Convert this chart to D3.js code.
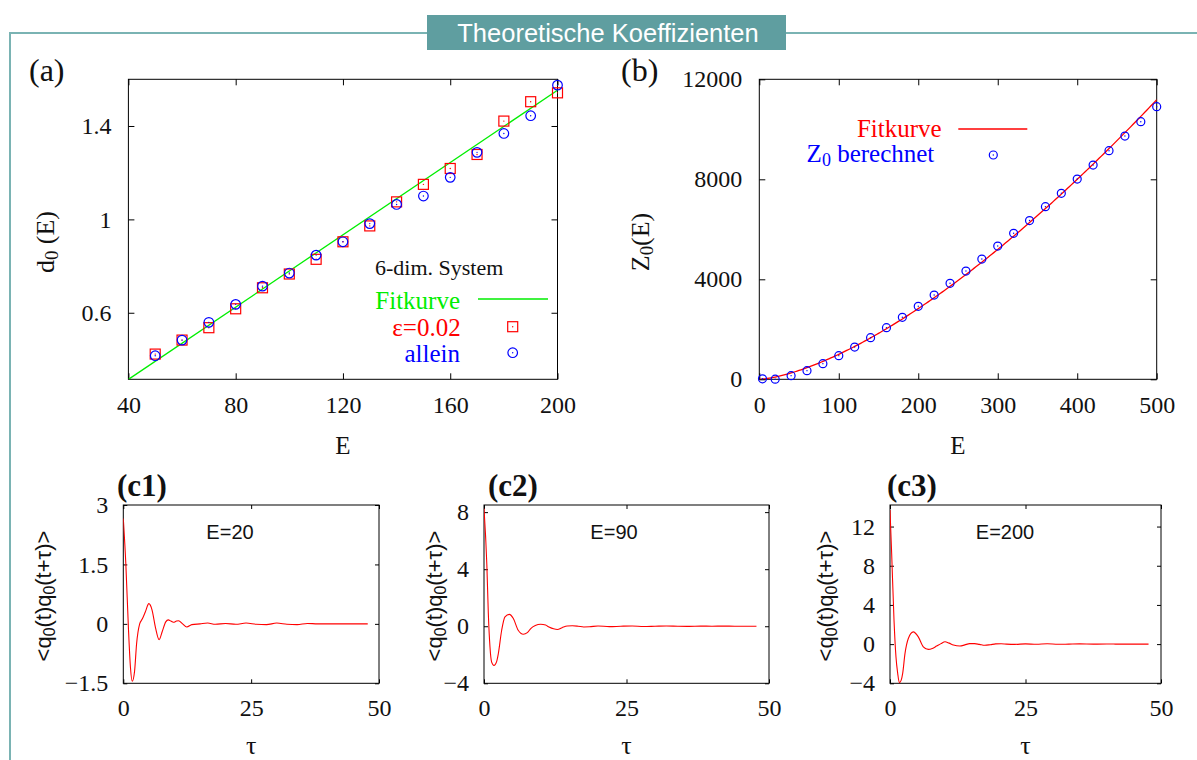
<!DOCTYPE html>
<html>
<head>
<meta charset="utf-8">
<script src="https://cdn.jsdelivr.net/npm/d3@7/dist/d3.min.js"></script>
<style>
  html, body { margin: 0; padding: 0; background: #fff; }
  svg { display: block; }
  .serif { font-family: "Liberation Serif", "Times New Roman", serif; }
  .sans { font-family: "Liberation Sans", Arial, sans-serif; }
</style>
</head>
<body>
<svg id="chart" width="1197" height="760"></svg>
<script>
// ---------- data ----------
// (a) d0(E) for the 6-dim. system
const energyA = [50, 60, 70, 80, 90, 100, 110, 120, 130, 140, 150, 160, 170, 180, 190, 200];
const d0Eps = [0.423, 0.483, 0.536, 0.617, 0.707, 0.766, 0.829, 0.904, 0.972, 1.075, 1.150, 1.218, 1.278, 1.421, 1.504, 1.542];
const d0Allein = [0.416, 0.483, 0.559, 0.636, 0.714, 0.770, 0.847, 0.904, 0.982, 1.064, 1.100, 1.180, 1.287, 1.368, 1.444, 1.575];
const fitA = [0.00774, 0.005];          // slope, intercept of the linear fit
const xTicksA = [40, 80, 120, 160, 200];
const yTicksA = [0.6, 1, 1.4];

// (b) Z0(E)
const energyB = [4, 20, 40, 60, 80, 100, 120, 140, 160, 180, 200, 220, 240, 260, 280, 300, 320, 340, 360, 380, 400, 420, 440, 460, 480, 500];
const z0Values = [20, 5, 145, 345, 625, 945, 1290, 1665, 2065, 2480, 2920, 3370, 3840, 4330, 4810, 5330, 5840, 6350, 6905, 7440, 8010, 8570, 9145, 9730, 10305, 10905];
const fitB = [1.0, 1.5];                // Z0 = a * E^b
const xTicksB = [0, 100, 200, 300, 400, 500];
const yTicksB = [0, 4000, 8000, 12000];

// (c1)-(c3) autocorrelation <q0(t)q0(t+tau)>
const tauC1 = [0, 0.5, 1.0, 1.4, 1.75, 2.2, 2.6, 3.2, 3.7, 4.3, 5.0, 5.6, 6.3, 7.0, 7.6, 8.3, 8.8, 9.3, 9.8, 10.4, 10.8, 11.6, 12.4, 13.4, 15, 16.5, 18, 20, 22, 24, 26, 28, 30, 32, 34, 36, 38, 41, 44, 47.8];
const corrC1 = [2.66, 1.5, -0.1, -1.1, -1.45, -1.2, -0.5, 0.0, 0.12, 0.3, 0.51, 0.36, -0.1, -0.40, -0.2, 0.05, 0.1, 0.07, 0.04, 0.07, 0.08, 0.0, -0.08, -0.02, 0.0, 0.02, -0.01, 0.01, -0.01, 0.02, -0.01, -0.02, 0.02, -0.01, -0.02, 0.01, 0.0, 0.0, 0.0, 0.0];
const tauC2 = [0, 0.5, 0.76, 1.05, 1.34, 1.75, 2.2, 2.51, 3.1, 3.68, 4.44, 5.15, 6.0, 6.9, 7.6, 8.2, 9.0, 9.94, 10.8, 11.4, 12.2, 12.87, 13.7, 14.6, 15.5, 16.5, 17.5, 18.5, 20, 22, 24, 26, 28, 30, 32, 34, 36, 38, 40, 42, 44, 46, 47.8];
const corrC2 = [8.25, 4.3, 0.9, -1.46, -2.52, -2.75, -2.5, -1.93, -0.28, 0.66, 0.83, 0.54, -0.28, -0.56, -0.45, -0.16, 0.05, 0.14, 0.08, -0.05, -0.18, -0.23, -0.1, 0.02, 0.03, 0.0, -0.05, -0.04, 0.02, -0.03, 0.0, 0.02, -0.02, 0.0, 0.02, 0.0, -0.01, 0.01, 0.0, 0.01, 0.0, 0.0, 0.0];
const tauC3 = [0, 0.31, 0.74, 1.1, 1.42, 1.72, 2.05, 2.34, 2.77, 3.38, 4.3, 5.22, 6.15, 7.07, 7.8, 8.6, 9.4, 10.15, 10.9, 11.7, 12.9, 13.8, 14.7, 15.6, 16.5, 17.5, 18.5, 19.5, 20.5, 21.5, 23, 25, 27, 29, 31, 33, 35, 37.5, 40, 42.5, 45, 47.7];
const corrC3 = [13.7, 9.2, 2.44, -1.29, -2.98, -3.93, -3.7, -2.98, -0.95, 0.58, 1.25, 0.74, -0.27, -0.54, -0.45, -0.2, 0.05, 0.24, 0.1, -0.1, -0.2, -0.08, 0.05, 0.05, -0.03, -0.12, -0.06, 0.02, 0.04, 0.0, -0.03, 0.02, -0.02, 0.03, -0.02, 0.0, 0.02, 0.0, 0.01, 0.0, 0.0, 0.0];
const xTicksC = [0, 25, 50];
const yTicksC1 = [-1.5, 0, 1.5, 3];
const yTicksC2 = [-4, 0, 4, 8];
const yTicksC3 = [-4, 0, 4, 8, 12];

// ---------- drawing ----------
const svg = d3.select("#chart");
const TEAL = "#5f9ea0";

// outer frame and heading box
svg.append("path")
  .attr("d", "M10,760 V33 H1197")
  .attr("fill", "none").attr("stroke", "#7ab3b3").attr("stroke-width", 2);
svg.append("rect").attr("x", 427).attr("y", 15).attr("width", 359).attr("height", 35).attr("fill", TEAL);
svg.append("text").attr("class", "sans")
  .attr("x", 608).attr("y", 33).attr("dy", "0.35em")
  .attr("text-anchor", "middle").attr("fill", "#fff").attr("font-size", 25.5)
  .text("Theoretische Koeffizienten");

// panel frame with inward ticks on all four sides
function drawFrame(g, x, y, xt, yt, opts) {
  const [x0, x1] = x.range();
  const [yb, yt0] = y.range();
  const fs = opts.fontSize;
  const tl = opts.tick;
  const bottom = d3.axisBottom(x).tickValues(xt).tickSize(-tl).tickPadding(opts.xPad).tickFormat(opts.xFmt || d3.format("d"));
  const top = d3.axisTop(x).tickValues(xt).tickSize(-tl).tickFormat("");
  const left = d3.axisLeft(y).tickValues(yt).tickSize(-tl).tickPadding(opts.yPad).tickFormat(opts.yFmt || d3.format("d"));
  const right = d3.axisRight(y).tickValues(yt).tickSize(-tl).tickFormat("");
  const style = sel => {
    sel.select(".domain").remove();
    sel.selectAll("line").attr("stroke", "#000").attr("stroke-width", 1);
    sel.selectAll("text").attr("class", "serif").attr("font-size", fs).attr("fill", "#111");
  };
  g.append("g").attr("transform", `translate(0,${yb})`).call(bottom).call(style);
  g.append("g").attr("transform", `translate(0,${yt0})`).call(top).call(style);
  g.append("g").attr("transform", `translate(${x0},0)`).call(left).call(style);
  g.append("g").attr("transform", `translate(${x1},0)`).call(right).call(style);
  g.append("rect").attr("x", x0).attr("y", yt0).attr("width", x1 - x0).attr("height", yb - yt0)
    .attr("fill", "none").attr("stroke", "#000").attr("stroke-width", 1);
}

function clipFor(id, x, y) {
  svg.append("clipPath").attr("id", id).append("rect")
    .attr("x", x.range()[0]).attr("y", y.range()[1])
    .attr("width", x.range()[1] - x.range()[0]).attr("height", y.range()[0] - y.range()[1]);
}

function squareMark(g, cx, cy, color, s) {
  g.append("rect").attr("x", cx - s / 2).attr("y", cy - s / 2).attr("width", s).attr("height", s)
    .attr("fill", "none").attr("stroke", color).attr("stroke-width", 1.2);
  g.append("circle").attr("cx", cx).attr("cy", cy).attr("r", 0.7).attr("fill", color);
}
function circleMark(g, cx, cy, color, r) {
  g.append("circle").attr("cx", cx).attr("cy", cy).attr("r", r)
    .attr("fill", "none").attr("stroke", color).attr("stroke-width", 1.2);
  g.append("circle").attr("cx", cx).attr("cy", cy).attr("r", 0.7).attr("fill", color);
}

// rotated axis title with a subscript "0"
function yTitle(parts, cx, cy, cls, fs) {
  const t = svg.append("text").attr("class", cls).attr("font-size", fs).attr("fill", "#111")
    .attr("text-anchor", "middle").attr("dy", "0.35em")
    .attr("transform", `translate(${cx},${cy}) rotate(-90)`);
  parts.forEach(p => {
    if (p.sub) {
      t.append("tspan").attr("font-size", fs * 0.72).attr("baseline-shift", "-22%").text(p.t);
    } else {
      t.append("tspan").text(p.t);
    }
  });
  return t;
}

// ---- panel (a) ----
{
  const x = d3.scaleLinear().domain([40, 200]).range([128.4, 557.5]);
  const y = d3.scaleLinear().domain([0.315, 1.6]).range([379.3, 79.3]);
  const g = svg.append("g");
  clipFor("clipA", x, y);
  drawFrame(g, x, y, xTicksA, yTicksA, {fontSize: 24, tick: 6, xPad: 17, yPad: 17,
    yFmt: d => (d === 1 ? "1" : d3.format(".1f")(d))});

  const fit = d3.line().x(d => x(d)).y(d => y(fitA[0] * d + fitA[1]));
  g.append("path").datum(x.domain()).attr("d", fit).attr("clip-path", "url(#clipA)")
    .attr("fill", "none").attr("stroke", "#00ee00").attr("stroke-width", 1.3);

  energyA.forEach((e, i) => squareMark(g, x(e), y(d0Eps[i]), "#ff0000", 10));
  energyA.forEach((e, i) => circleMark(g, x(e), y(d0Allein[i]), "#0000ff", 4.8));

  // legend
  g.append("text").attr("class", "serif").attr("x", 375).attr("y", 275).attr("font-size", 22).attr("fill", "#111").text("6-dim. System");
  g.append("text").attr("class", "serif").attr("x", 460).attr("y", 309).attr("text-anchor", "end").attr("font-size", 25).attr("fill", "#00ee00").text("Fitkurve");
  g.append("line").attr("x1", 478).attr("x2", 548).attr("y1", 299).attr("y2", 299).attr("stroke", "#00ee00").attr("stroke-width", 1.5);
  g.append("text").attr("class", "serif").attr("x", 460.7).attr("y", 336).attr("text-anchor", "end").attr("font-size", 25).attr("fill", "#ff0000").text("ε=0.02");
  squareMark(g, 512.7, 326.7, "#ff0000", 10);
  g.append("text").attr("class", "serif").attr("x", 460).attr("y", 361.7).attr("text-anchor", "end").attr("font-size", 25).attr("fill", "#0000ff").text("allein");
  circleMark(g, 512.7, 352.7, "#0000ff", 4.8);

  svg.append("text").attr("class", "serif").attr("x", 29).attr("y", 81).attr("font-size", 32).attr("fill", "#111").text("(a)");
  svg.append("text").attr("class", "serif").attr("x", 343).attr("y", 454).attr("text-anchor", "middle").attr("font-size", 25).attr("fill", "#111").text("E");
  yTitle([{t: "d"}, {t: "0", sub: true}, {t: " (E)"}], 45, 242, "serif", 26);
}

// ---- panel (b) ----
{
  const x = d3.scaleLinear().domain([0, 500]).range([759.3, 1156.7]);
  const y = d3.scaleLinear().domain([0, 12000]).range([379.3, 79.3]);
  const g = svg.append("g");
  clipFor("clipB", x, y);
  drawFrame(g, x, y, xTicksB, yTicksB, {fontSize: 24, tick: 6, xPad: 17, yPad: 17});

  const fit = d3.line().x(d => x(d)).y(d => y(fitB[0] * Math.pow(d, fitB[1])));
  g.append("path").datum(d3.range(0, 500.01, 2.5)).attr("d", fit).attr("clip-path", "url(#clipB)")
    .attr("fill", "none").attr("stroke", "#ff0000").attr("stroke-width", 1.3);

  energyB.forEach((e, i) => circleMark(g, x(e), y(z0Values[i]), "#0000ff", 4));

  g.append("text").attr("class", "serif").attr("x", 941.7).attr("y", 137).attr("text-anchor", "end").attr("font-size", 25).attr("fill", "#ff0000").text("Fitkurve");
  g.append("line").attr("x1", 958.3).attr("x2", 1027.3).attr("y1", 129).attr("y2", 129).attr("stroke", "#ff0000").attr("stroke-width", 1.3);
  const zt = g.append("text").attr("class", "serif").attr("x", 934.3).attr("y", 162).attr("text-anchor", "end").attr("font-size", 25).attr("fill", "#0000ff");
  zt.append("tspan").text("Z");
  zt.append("tspan").attr("font-size", 18).attr("baseline-shift", "-22%").text("0");
  zt.append("tspan").text(" berechnet");
  circleMark(g, 993.3, 155, "#0000ff", 4);

  svg.append("text").attr("class", "serif").attr("x", 621).attr("y", 81).attr("font-size", 32).attr("fill", "#111").text("(b)");
  svg.append("text").attr("class", "serif").attr("x", 958).attr("y", 454).attr("text-anchor", "middle").attr("font-size", 25).attr("fill", "#111").text("E");
  yTitle([{t: "Z"}, {t: "0", sub: true}, {t: "(E)"}], 640, 242, "serif", 26);
}

// ---- panels (c1)-(c3) ----
const cPanels = [
  {tag: "(c1)", label: "E=20", tau: tauC1, corr: corrC1, yDom: [-1.5, 3], yTicks: yTicksC1,
   xr: [123.3, 379], lx: 117, tx: 230, ylx: 43, fmt: d => (d === 0 ? "0" : d3.format(".1~f")(d))},
  {tag: "(c2)", label: "E=90", tau: tauC2, corr: corrC2, yDom: [-4, 8.5], yTicks: yTicksC2,
   xr: [484, 769], lx: 488, tx: 614, ylx: 434, fmt: d3.format("d")},
  {tag: "(c3)", label: "E=200", tau: tauC3, corr: corrC3, yDom: [-4, 14.2], yTicks: yTicksC3,
   xr: [890, 1161], lx: 887, tx: 1005, ylx: 825, fmt: d3.format("d")}
];

cPanels.forEach((p, k) => {
  const x = d3.scaleLinear().domain([0, 50]).range(p.xr);
  const y = d3.scaleLinear().domain(p.yDom).range([683.3, 505]);
  const g = svg.append("g");
  clipFor("clipC" + k, x, y);
  drawFrame(g, x, y, xTicksC, p.yTicks, {fontSize: 24, tick: 4, xPad: 16, yPad: 15, yFmt: p.fmt});

  const line = d3.line().x((d, i) => x(p.tau[i])).y(d => y(d)).curve(d3.curveMonotoneX);
  g.append("path").datum(p.corr).attr("d", line).attr("clip-path", `url(#clipC${k})`)
    .attr("fill", "none").attr("stroke", "#ff0000").attr("stroke-width", 1.1);

  g.append("text").attr("class", "sans").attr("x", p.tx).attr("y", 532).attr("dy", "0.35em")
    .attr("text-anchor", "middle").attr("font-size", 20).attr("fill", "#111").text(p.label);
  svg.append("text").attr("class", "serif").attr("x", p.lx).attr("y", 496)
    .attr("font-size", 31).attr("font-weight", "bold").attr("fill", "#111").text(p.tag);
  svg.append("text").attr("class", "serif").attr("x", (p.xr[0] + p.xr[1]) / 2).attr("y", 754)
    .attr("text-anchor", "middle").attr("font-size", 26).attr("fill", "#111").text("τ");
  yTitle([{t: "<q"}, {t: "0", sub: true}, {t: "(t)q"}, {t: "0", sub: true}, {t: "(t+τ)>"}], p.ylx, 596, "sans", 22);
});
</script>
</body>
</html>
